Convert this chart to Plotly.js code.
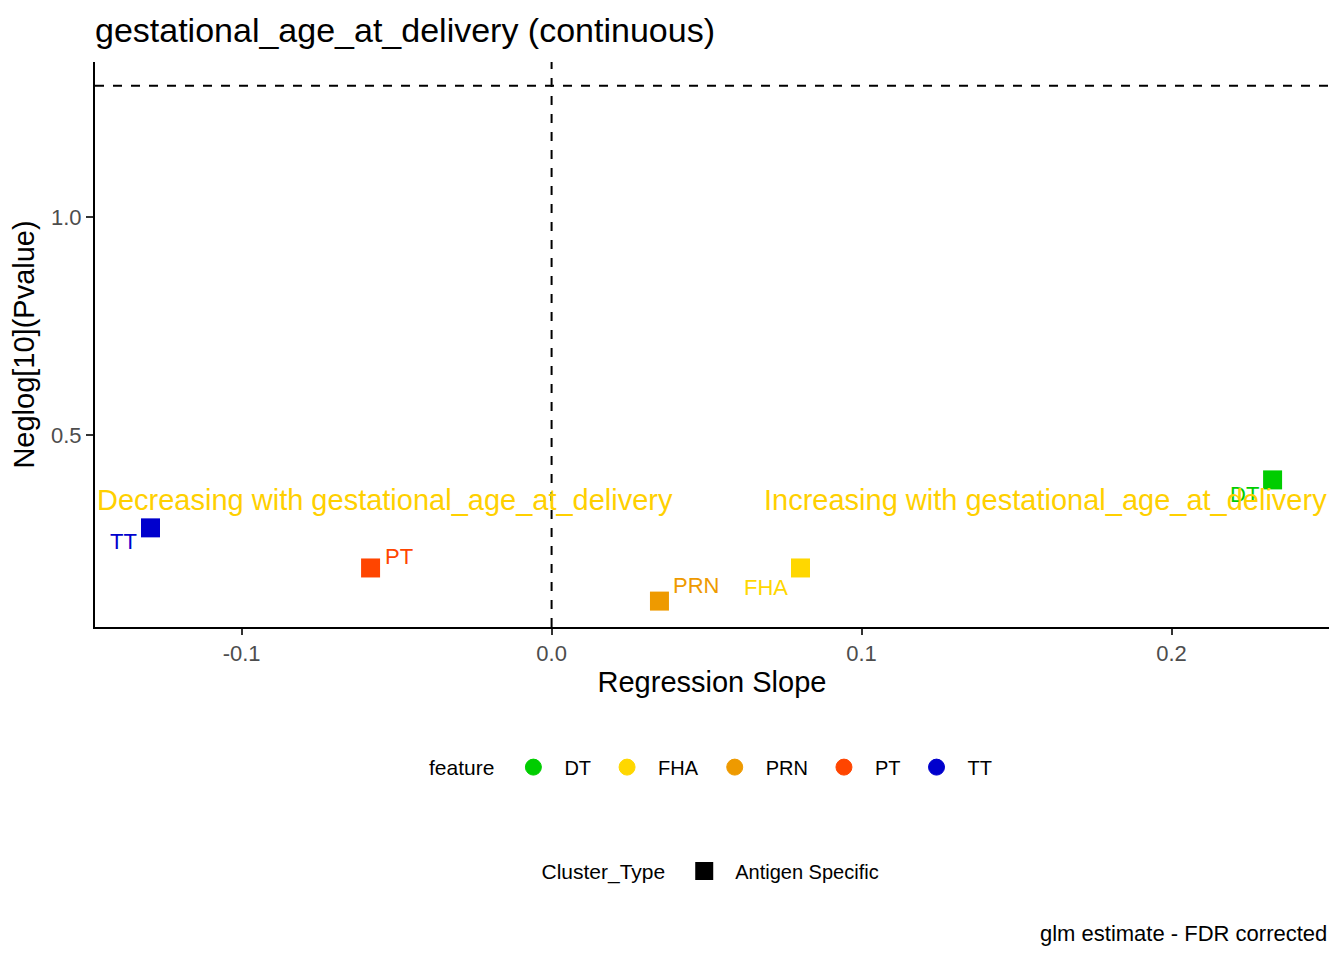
<!DOCTYPE html>
<html>
<head>
<meta charset="utf-8">
<script src="https://cdn.plot.ly/plotly-3.0.1.min.js"></script>
<style>
  html, body { margin: 0; padding: 0; background: #ffffff; }
  #chart { width: 1344px; height: 960px; }
</style>
</head>
<body>
<div id="chart"></div>
<script>
// values
const features = ["DT", "FHA", "PRN", "PT", "TT"];
const featureColors = ["#00CD00", "#FFD700", "#EE9A00", "#FF4500", "#0000CD"];
const slopes = [0.2326, 0.0803, 0.0348, -0.0584, -0.1294];
const neglogP = [0.397, 0.195, 0.119, 0.195, 0.287];
const clusterTypes = ["Antigen Specific"];
const xTicks = [-0.1, 0.0, 0.1, 0.2];
const yTicks = [0.5, 1.0];
const pThreshold = 0.05;
const directionLabels = ["Decreasing with gestational_age_at_delivery", "Increasing with gestational_age_at_delivery"];
const directionY = 0.351;

// label nudges in pixels (ggrepel-like placement)
const labelShift = [[-28, -15], [-35, -20], [37, 16], [28, 11], [-27, -14]];

const FONT = "Liberation Sans, Arial, sans-serif";

document.addEventListener("DOMContentLoaded", function () {
    const chartDiv = document.getElementById("chart");

    const traces = [];

    // points
    traces.push({
        type: "scatter",
        mode: "markers",
        x: slopes,
        y: neglogP,
        marker: { symbol: "square", size: 19, color: featureColors, line: { width: 0 } },
        showlegend: false,
        hoverinfo: "x+y"
    });

    // legend entries: feature (circles)
    features.forEach(function (f, i) {
        traces.push({
            type: "scatter",
            mode: "markers",
            x: [null],
            y: [null],
            name: f,
            legend: "legend",
            marker: { symbol: "circle", size: 16, color: featureColors[i], line: { color: featureColors[i], width: 1 } }
        });
    });

    // legend entry: Cluster_Type
    clusterTypes.forEach(function (c) {
        traces.push({
            type: "scatter",
            mode: "markers",
            x: [null],
            y: [null],
            name: c,
            legend: "legend2",
            marker: { symbol: "square", size: 16, color: "#000000", line: { color: "#000000", width: 2 } }
        });
    });

    const annotations = [];

    features.forEach(function (f, i) {
        annotations.push({
            x: slopes[i],
            y: neglogP[i],
            xref: "x",
            yref: "y",
            text: f,
            showarrow: false,
            xanchor: "center",
            yanchor: "middle",
            xshift: labelShift[i][0],
            yshift: labelShift[i][1],
            font: { family: FONT, size: 22, color: featureColors[i] }
        });
    });

    annotations.push({
        x: 0, xref: "paper", xanchor: "left",
        y: directionY, yref: "y", yanchor: "middle",
        text: directionLabels[0],
        showarrow: false,
        font: { family: FONT, size: 29, color: "#FFD000" }
    });
    annotations.push({
        x: 1, xref: "paper", xanchor: "right",
        y: directionY, yref: "y", yanchor: "middle",
        text: directionLabels[1],
        showarrow: false,
        font: { family: FONT, size: 29, color: "#FFD000" }
    });

    // caption
    annotations.push({
        x: 1, xref: "paper", xanchor: "right",
        y: -0.5416, yref: "paper", yanchor: "middle",
        text: "glm estimate - FDR corrected",
        showarrow: false,
        font: { family: FONT, size: 22, color: "#000000" }
    });

    const threshold = -Math.log10(pThreshold);

    const layout = {
        width: 1344,
        height: 960,
        margin: { l: 95, r: 15, t: 62, b: 333 },
        paper_bgcolor: "#ffffff",
        plot_bgcolor: "#ffffff",
        font: { family: FONT, color: "#000000" },
        title: {
            text: "gestational_age_at_delivery (continuous)",
            font: { family: FONT, size: 34, color: "#000000" },
            x: 0, xref: "paper", xanchor: "left",
            y: 1 - 30 / 960, yref: "container", yanchor: "middle"
        },
        xaxis: {
            range: [-0.1473, 0.2508],
            tickvals: xTicks,
            ticktext: xTicks.map(function (v) { return v.toFixed(1); }),
            ticks: "outside", ticklen: 6, tickwidth: 2, tickcolor: "#333333",
            tickfont: { family: FONT, size: 22, color: "#4D4D4D" },
            showline: true, linecolor: "#000000", linewidth: 2,
            showgrid: false, zeroline: false,
            title: { text: "Regression Slope", font: { family: FONT, size: 29, color: "#000000" }, standoff: 6 }
        },
        yaxis: {
            range: [0.0596, 1.3555],
            tickvals: yTicks,
            ticktext: yTicks.map(function (v) { return v.toFixed(1); }),
            ticks: "outside", ticklen: 7, tickwidth: 2, tickcolor: "#333333",
            tickfont: { family: FONT, size: 22, color: "#4D4D4D" },
            showline: true, linecolor: "#000000", linewidth: 2,
            showgrid: false, zeroline: false,
            title: { text: "Neglog[10](Pvalue)", font: { family: FONT, size: 29, color: "#000000" }, standoff: 8 }
        },
        shapes: [
            {
                type: "line", xref: "x", yref: "paper",
                x0: 0, x1: 0, y0: 0, y1: 1,
                line: { color: "#000000", width: 2, dash: "dash" }
            },
            {
                type: "line", xref: "paper", yref: "y",
                x0: 0, x1: 1, y0: threshold, y1: threshold,
                line: { color: "#000000", width: 2, dash: "dash" }
            }
        ],
        annotations: annotations,
        legend: {
            orientation: "h",
            x: 0.5, xanchor: "center",
            y: -0.248, yanchor: "middle",
            title: { text: "feature", font: { family: FONT, size: 21, color: "#000000" } },
            font: { family: FONT, size: 20, color: "#000000" },
            itemwidth: 52,
            bgcolor: "rgba(0,0,0,0)",
            itemclick: false, itemdoubleclick: false
        },
        legend2: {
            orientation: "h",
            x: 0.5, xanchor: "center",
            y: -0.432, yanchor: "middle",
            title: { text: "Cluster_Type", font: { family: FONT, size: 21, color: "#000000" } },
            font: { family: FONT, size: 20, color: "#000000" },
            itemwidth: 52,
            bgcolor: "rgba(0,0,0,0)",
            itemclick: false, itemdoubleclick: false
        },
        showlegend: true
    };

    Plotly.newPlot(chartDiv, traces, layout, { displayModeBar: false, responsive: false });
});
</script>
</body>
</html>
